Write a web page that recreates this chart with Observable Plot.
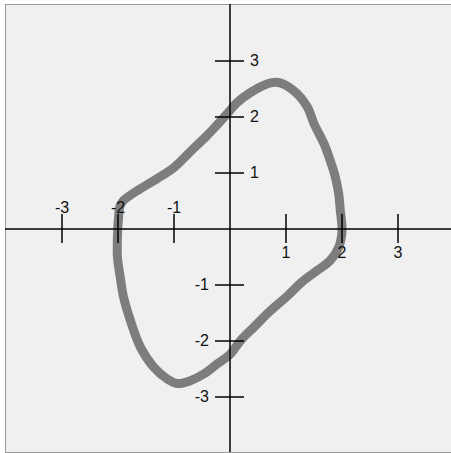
<!DOCTYPE html>
<html><head><meta charset="utf-8">
<script src="https://cdn.jsdelivr.net/npm/d3@7"></script>
<script src="https://cdn.jsdelivr.net/npm/@observablehq/plot@0.6"></script>
<style>body{margin:0;background:#fff}</style>
</head><body><div id="chart"></div>
<script>
// Closed orbit (phase portrait)
const orbitX = [-1.99,-1.96,-1.90,-1.60,-1.30,-1.00,-0.71,-0.41,-0.23,-0.05,0.13,0.37,0.66,0.84,1.14,1.38,1.50,1.68,1.79,1.88,1.94,1.97,2.00,1.94,1.79,1.56,1.28,1.02,0.72,0.43,0.19,0.01,-0.23,-0.47,-0.71,-0.94,-1.12,-1.36,-1.60,-1.78,-1.90,-1.96,-2.01,-2.01];
const orbitY = [0.21,0.42,0.51,0.72,0.90,1.10,1.38,1.67,1.86,2.06,2.26,2.44,2.59,2.62,2.47,2.18,1.88,1.52,1.22,0.93,0.63,0.33,-0.03,-0.33,-0.56,-0.74,-0.95,-1.20,-1.46,-1.75,-1.99,-2.23,-2.41,-2.59,-2.71,-2.76,-2.68,-2.47,-2.11,-1.63,-1.22,-0.86,-0.50,-0.15];
const xTicks = [-3,-2,-1,1,2,3];
const yTicks = [-3,-2,-1,1,2,3];

const pts = orbitX.map((x,i)=>({x, y: orbitY[i]}));
const W = 451, H = 453;
const unit = 56;          // pixels per unit
const ox = 229.5, oy = 228.5; // origin in pixels
const mL = 5, mT = 4, mR = 0, mB = 1;
const xDomain = [(mL-ox)/unit, (W-mR-ox)/unit];
const yDomain = [-(H-mB-oy)/unit, (oy-mT)/unit];
const t = 14.5/unit;

const font = "Arial, 'Liberation Sans', sans-serif";
const fs = 16;
const chart = Plot.plot({
  width: W, height: H,
  marginLeft: mL, marginTop: mT, marginRight: mR, marginBottom: mB,
  x: {domain: xDomain, axis: null},
  y: {domain: yDomain, axis: null},
  style: {background: "transparent", fontFamily: font, fontSize: fs + "px"},
  marks: [
    Plot.frame({fill: "#f0f0f0", stroke: "#9a9a9a"}),
    Plot.line(pts, {x: "x", y: "y", curve: "catmull-rom-closed", stroke: "#7d7d7d", strokeWidth: 9}),
    Plot.ruleY([0], {stroke: "#000", strokeWidth: 1.5}),
    Plot.ruleX([0], {stroke: "#000", strokeWidth: 1.5}),
    Plot.ruleX(xTicks, {x: d=>d, y1: -t, y2: t, stroke: "#000", strokeWidth: 1.5}),
    Plot.ruleY(yTicks, {y: d=>d, x1: -t, x2: t, stroke: "#000", strokeWidth: 1.5}),
    Plot.text(xTicks.filter(d=>d<0), {x: d=>d, y: 0, text: d=>String(d), dy: -21, fontSize: fs, fill: "#111"}),
    Plot.text(xTicks.filter(d=>d>0), {x: d=>d, y: 0, text: d=>String(d), dy: 24, fontSize: fs, fill: "#111"}),
    Plot.text(yTicks.filter(d=>d>0), {x: 0, y: d=>d, text: d=>String(d), dx: 20, textAnchor: "start", fontSize: fs, fill: "#111"}),
    Plot.text(yTicks.filter(d=>d<0), {x: 0, y: d=>d, text: d=>String(d), dx: -21, textAnchor: "end", fontSize: fs, fill: "#111"})
  ]
});
document.getElementById("chart").appendChild(chart);
</script>
</body></html>
